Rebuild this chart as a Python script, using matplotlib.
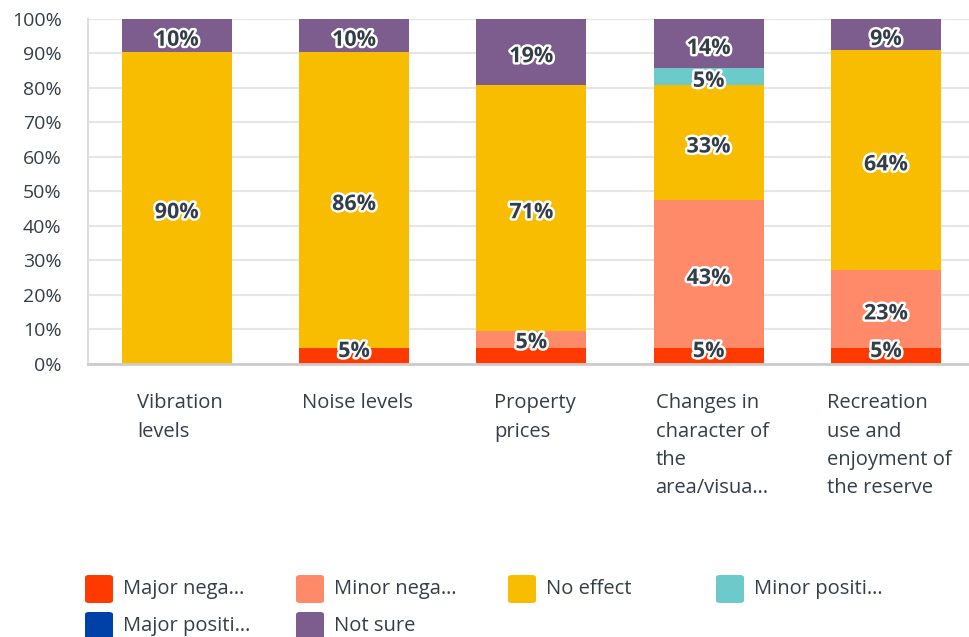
import matplotlib
matplotlib.use("Agg")
import matplotlib.pyplot as plt
import matplotlib.patheffects as pe
from matplotlib.patches import FancyBboxPatch
import numpy as np

plt.rcParams['font.family'] = ['Open Sans', 'DejaVu Sans']

categories = ["Vibration\nlevels", "Noise levels", "Property\nprices",
              "Changes in\ncharacter of\nthe\narea/visua…",
              "Recreation\nuse and\nenjoyment of\nthe reserve"]

series_names = ["Major negative effect", "Minor negative effect", "No effect",
                "Minor positive effect", "Major positive effect", "Not sure"]
legend_labels = ["Major nega…", "Minor nega…", "No effect",
                 "Minor positi…", "Major positi…", "Not sure"]
colors = ["#FF3A00", "#FF8A6A", "#F8BC00", "#6CCACB", "#0041A8", "#7D5C8E"]

major_neg = [0.0, 4.76, 4.76, 4.76, 4.55]
minor_neg = [0.0, 0.0, 4.76, 42.86, 22.73]
no_effect = [90.48, 85.71, 71.43, 33.33, 63.64]
minor_pos = [0.0, 0.0, 0.0, 4.76, 0.0]
major_pos = [0.0, 0.0, 0.0, 0.0, 0.0]
not_sure = [9.52, 9.52, 19.05, 14.29, 9.09]

data = [major_neg, minor_neg, no_effect, minor_pos, major_pos, not_sure]

txt = "#333E48"
fig = plt.figure(figsize=(9.7, 6.37), dpi=100)
ax = fig.add_axes([0.0907, 0.4286, 0.914, 0.5416])

x = np.arange(len(categories))
bottom = np.zeros(len(categories))
label_pos = [[] for _ in categories]
for vals, col in zip(data, colors):
    vals = np.array(vals)
    ax.bar(x, vals, 0.62, bottom=bottom, color=col, zorder=3)
    for i, v in enumerate(vals):
        if v > 0:
            label_pos[i].append((bottom[i] + v / 2, f"{v:.0f}%"))
    bottom += vals

stroke = [pe.withStroke(linewidth=3.5, foreground="white")]
for i, labs in enumerate(label_pos):
    shown = []
    for y, s in labs:
        if shown and y - shown[-1][0] < 5:
            # too close to the one below: keep only one label between them
            prev = shown.pop()
            y = (prev[0] + y) / 2 + 2.8
        shown.append((y, s))
    for y, s in shown:
        y = max(y - 1.4, 3.6)
        ax.text(i, y, s, ha="center", va="center", fontsize=15.5, fontweight="bold",
                color=txt, path_effects=stroke, zorder=5)

ax.set_xlim(-0.5, 4.5)
ax.set_ylim(0, 100)
ax.set_yticks(np.arange(0, 101, 10))
ax.set_yticklabels([f"{t}%" for t in range(0, 101, 10)])
ax.tick_params(axis="y", length=0, pad=19, labelsize=14, labelcolor=txt)
ax.set_xticks(x)
ax.set_xticklabels([])
ax.tick_params(axis="x", length=0)
ax.grid(axis="y", color="#E6E6E6", linewidth=1.5, zorder=0)
for sp in ["top", "right"]:
    ax.spines[sp].set_visible(False)
ax.spines["left"].set_color("#DDDDDD")
ax.spines["left"].set_linewidth(1.5)
ax.spines["bottom"].set_color("#CCCCCC")
ax.spines["bottom"].set_linewidth(2)
ax.spines["bottom"].set_zorder(4)

for i, c in enumerate(categories):
    ax.text(i + 0.02, -8.5, c, ha="center", va="top", multialignment="left",
            fontsize=14.5, color=txt, linespacing=1.55, transform=ax.transData,
            clip_on=False)

# legend
W, H = 970, 637
col_x = [85, 296, 508, 716]
row_y = [589, 626]
for k, (lab, col) in enumerate(zip(legend_labels, colors)):
    r, c = divmod(k, 4)
    x0, yc = col_x[c], row_y[r]
    box = FancyBboxPatch((x0 / W, 1 - (yc + 14) / H), 28 / W, 28 / H,
                         boxstyle="round,pad=0,rounding_size=0.004",
                         transform=fig.transFigure, facecolor=col, edgecolor="none")
    fig.patches.append(box)
    fig.text((x0 + 38) / W, 1 - yc / H, lab, ha="left", va="center",
             fontsize=14.5, color=txt)

fig.savefig("out.png", dpi=100)
